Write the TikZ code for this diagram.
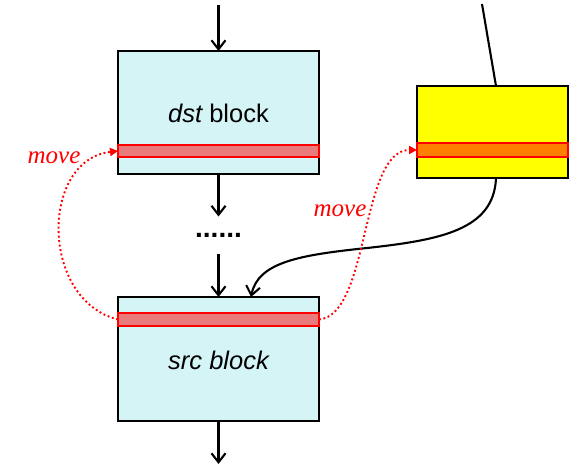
\documentclass[tikz,border=0pt]{standalone}
\usepackage{fontspec}
\setmainfont{Liberation Serif}
\setsansfont{Liberation Sans}
\usetikzlibrary{arrows.meta}
\definecolor{blockcyan}{HTML}{D4F4F6}
\definecolor{bandred}{HTML}{EA7B7D}
\definecolor{bandorange}{HTML}{FF7F00}
\definecolor{blockyellow}{HTML}{FFFF00}
\begin{document}
\begin{tikzpicture}[x=1pt,y=-1pt,
  blockbox/.style={draw=black,line width=2.4pt,fill=blockcyan,minimum width=201pt,inner sep=0pt,outer sep=0pt},
  blocktext/.style={font=\sffamily\fontsize{25.5}{29}\selectfont},
  bandbox/.style={draw=red,line width=1.3pt,fill=bandred,minimum width=201pt,inner sep=0pt,outer sep=0pt},
  flowarrow/.style={line width=2.1pt,-{Straight Barb[length=9pt,width=14pt]}},
  movearrow/.style={red,line width=1.9pt,dash pattern=on 1.9pt off 2.6pt,-{Triangle[length=8pt,width=8pt,sep=0pt]}},
  movelabel/.style={red,font=\itshape\fontsize{25}{28}\selectfont,inner sep=0pt},
  blackline/.style={line width=2.1pt}]
\useasboundingbox (0,0) rectangle (584,468);
% blocks
\node[blockbox,minimum height=123pt] (dst) at (218.5,112.5) {};
\node[blocktext] (dsttext) at (218.5,113) {\itshape dst\upshape{} block};
\node[bandbox,minimum height=12pt] (dstband) at (218.5,151) {};
\node[blockbox,minimum height=124pt] (src) at (218.5,359) {};
\node[blocktext] (srctext) at (218.5,360) {\itshape src block};
\node[bandbox,minimum height=13pt] (srcband) at (218.5,319.5) {};
\node[draw=black,line width=2.4pt,fill=blockyellow,minimum width=151pt,minimum height=92pt,inner sep=0pt,outer sep=0pt] (yel) at (492.5,132) {};
\node[draw=red,line width=1.3pt,fill=bandorange,minimum width=151pt,minimum height=14pt,inner sep=0pt,outer sep=0pt] (yelband) at (492.5,150) {};
% dots
\node[font=\sffamily\bfseries\fontsize{28}{30}\selectfont,minimum height=37pt,inner sep=0pt,outer sep=0pt] (dots) at (218.5,235) {......};
% coordinates
\coordinate (topin) at (218.5,5);
\coordinate (botout) at (218.5,464);
\coordinate (ytop) at (482,4);
\coordinate (srcin) at (251,297);
% flow arrows
\draw[flowarrow] (topin) -- (dst.north);
\draw[flowarrow] (dst.south) -- (dots.north);
\draw[flowarrow] (dots.south) -- (src.north);
\draw[flowarrow] (src.south) -- (botout);
\draw[blackline] (ytop) -- ([xshift=3.5pt]yel.north);
\draw[flowarrow] ([xshift=3.5pt]yel.south) .. controls (494,230) and (440,240) .. (367,248)
   .. controls (300,255) and (258,262) .. (srcin);
% move arrows
\draw[movearrow] (srcband.west) .. controls (40,300) and (40,160) .. (dstband.west);
\draw[movearrow] (srcband.east) .. controls (370,315) and (360,150) .. (yelband.west);
\node[movelabel] (mv1) at (54,158) {move};
\node[movelabel] (mv2) at (340,211) {move};
\end{tikzpicture}
\end{document}
